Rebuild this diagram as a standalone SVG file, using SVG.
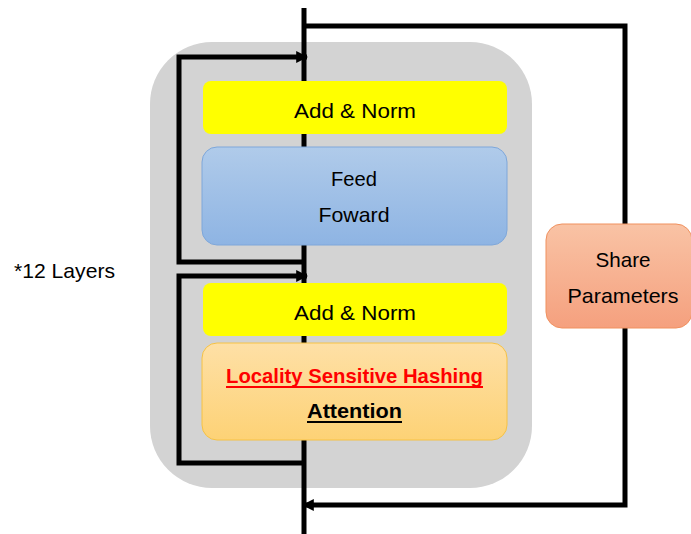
<svg xmlns="http://www.w3.org/2000/svg" width="691" height="534" viewBox="0 0 691 534">
<defs>
<linearGradient id="gBlue" x1="0" y1="0" x2="0" y2="1"><stop offset="0" stop-color="#b0cbea"/><stop offset="1" stop-color="#8eb4e3"/></linearGradient>
<linearGradient id="gOrange" x1="0" y1="0" x2="0" y2="1"><stop offset="0" stop-color="#fee0a6"/><stop offset="1" stop-color="#fdd276"/></linearGradient>
<linearGradient id="gSalmon" x1="0" y1="0" x2="0" y2="1"><stop offset="0" stop-color="#f9c3a5"/><stop offset="1" stop-color="#f5a07e"/></linearGradient>
<marker id="arr" viewBox="0 0 10 10" refX="9" refY="5" markerWidth="12" markerHeight="12" markerUnits="userSpaceOnUse" orient="auto"><path d="M0,0 L10,5 L0,10 Z" fill="#000"/></marker>
</defs>
<style>
.t{font-family:"Liberation Sans",Arial,sans-serif;font-size:21px;fill:#000;text-anchor:middle}
.ln{fill:none;stroke:#000;stroke-width:5}
.yel{fill:#ffff00}
</style>
<rect x="0" y="0" width="691" height="534" fill="#fff"/>
<g id="block"><rect x="150" y="42" width="382" height="446" rx="62" fill="#d3d3d3"/></g>
<g id="connectors">
<line class="ln" x1="304" y1="8" x2="304" y2="534"/>
<polyline class="ln" points="304,26 625,26 625,505 303,505" marker-end="url(#arr)"/>
<polyline class="ln" points="304,262 179,262 179,57 307,57" marker-end="url(#arr)"/>
<polyline class="ln" points="304,463 179,463 179,276 307,276" marker-end="url(#arr)"/>
</g>
<g id="addnorm1"><rect class="yel" x="203" y="81" width="304" height="53" rx="8"/><text class="t" x="355" y="118" textLength="122" lengthAdjust="spacingAndGlyphs">Add &amp; Norm</text></g>
<g id="ffn"><rect x="202" y="147" width="305" height="98" rx="15" fill="url(#gBlue)" stroke="#7ea7da" stroke-width="1"/><text class="t" x="354" y="186" textLength="46" lengthAdjust="spacingAndGlyphs">Feed</text><text class="t" x="354" y="222" textLength="71" lengthAdjust="spacingAndGlyphs">Foward</text></g>
<g id="addnorm2"><rect class="yel" x="203" y="283" width="304" height="53" rx="8"/><text class="t" x="355" y="320" textLength="122" lengthAdjust="spacingAndGlyphs">Add &amp; Norm</text></g>
<g id="lsh"><rect x="202" y="343" width="305" height="97" rx="15" fill="url(#gOrange)" stroke="#f6c244" stroke-width="1"/>
<text class="t" x="354.5" y="383" style="fill:#ff0000;font-weight:bold" textLength="257" lengthAdjust="spacingAndGlyphs">Locality Sensitive Hashing</text>
<line x1="226" y1="387" x2="483" y2="387" stroke="#ff0000" stroke-width="1.8"/>
<text class="t" x="354.5" y="418" style="font-weight:bold" textLength="95" lengthAdjust="spacingAndGlyphs">Attention</text>
<line x1="307" y1="422" x2="402" y2="422" stroke="#000" stroke-width="1.8"/></g>
<g id="share"><rect x="546" y="224" width="146" height="104" rx="16" fill="url(#gSalmon)" stroke="#f0915f" stroke-width="1"/><text class="t" x="623" y="267" textLength="55" lengthAdjust="spacingAndGlyphs">Share</text><text class="t" x="623" y="303" textLength="111" lengthAdjust="spacingAndGlyphs">Parameters</text></g>
<g id="layers"><text class="t" x="64.5" y="278" textLength="101" lengthAdjust="spacingAndGlyphs">*12 Layers</text></g>
</svg>
